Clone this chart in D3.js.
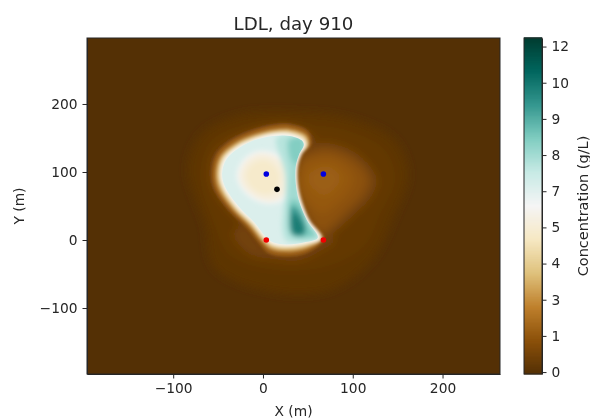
<!DOCTYPE html>
<html lang="en">
<meta charset="utf-8">
<title>LDL, day 910</title>
<style>
    html, body { margin: 0; padding: 0; background: white; }
    svg { display: block; font-family: "DejaVu Sans", sans-serif; filter: blur(0.35px); }
    text { fill: #262626; }
</style>
<body>
<svg id="canvas" width="590" height="420"></svg>
<script src="https://cdnjs.cloudflare.com/ajax/libs/d3/7.8.5/d3.min.js"></script>
<script>
    ///////////////////// Strings /////////////////////
    var title_text = "LDL, day 910";
    var x_label    = "X (m)";
    var y_label    = "Y (m)";
    var c_label    = "Concentration (g/L)";
    ///////////////////////////////////////////////////

    /////////////////////// Data //////////////////////
    var x_extent    = [-196, 264];
    var y_extent    = [-197, 297];
    var x_ticks     = [-100, 0, 100, 200];
    var y_ticks     = [-100, 0, 100, 200];
    var c_extent    = [-0.07, 12.1];
    var c_ticks     = [0, 1.31, 2.62, 3.93, 5.24, 6.55, 7.86, 9.17, 10.48, 11.79];
    var c_labels    = ["0", "1", "3", "4", "5", "7", "8", "9", "10", "12"];
    var brbg        = ["#543005", "#8c510a", "#bf812d", "#dfc27d", "#f6e8c3", "#f5f5f5",
                       "#c7eae5", "#80cdc1", "#35978f", "#01665e", "#003c30"];

    // wells
    var blue_wells  = [[3.7, 97], [67.3, 97]];
    var red_wells   = [[3.7, 0], [67.3, 0]];
    var black_wells = [[15.6, 74.5]];

    // concentration contours, [x, y] in metres, low to high
    var halo_a  = [[41,188],[97,179],[147,147],[162,96],[147,37],[122,-29],[75,-74],[8,-76],[-54,-41],[-65,22],[-84,103],[-70,154],[-26,184]];
    var halo_b  = [[41,169],[91,162],[136,132],[147,88],[130,37],[114,-7],[75,-37],[13,-44],[-37,-22],[-54,22],[-70,96],[-57,147],[-14,169]];
    var lobe_a  = [[56,140],[75,142],[101,130],[121,105],[127,86],[119,61],[101,37],[80,12],[67,2.5],[48,30],[34,78],[38,127]];
    var glow_a  = [[-33,10],[-15,-20],[10,-28],[40,-30],[65,-15],[80,0],[60,15],[0,30]];
    var rim_a   = [[30,172],[50,162],[60,140],[50,110],[44,80],[48,55],[58,28],[72,0],[55,-20],[26,-28],[5,-24],[-10,-5],[-22,18],[-40,44],[-56,74],[-60,98],[-55,128],[-36,150],[-12,164],[12,172]];
    var lobe_b  = [[57,130],[74,132],[95,122],[112,103],[117,86],[110,65],[93,42],[76,20],[66,10],[52,30],[38,78],[42,120]];
    var lobe_c  = [[60,118],[75,120],[92,108],[100,90],[94,70],[80,52],[66,40],[55,50],[40,78],[45,110]];
    var lobe_d  = [[62,106],[76,106],[86,92],[80,76],[68,66],[56,76],[50,92]];

    var body_15 = [[30,170],[50,160],[54,141],[44,125],[40,108],[40,83],[44,59],[53,29],[68,3],[50,-18],[26,-24],[7,-20],[-4,-5],[-18,18],[-38,44],[-54,75],[-57,98],[-52,126],[-35,147],[-12,161],[12,169]];
    var body_30 = [[30,163],[48,154],[51,140],[43,125],[39,108],[39,83],[43,59],[52,29],[66,2.5],[49,-12],[26,-17],[8,-13],[-1,-2],[-15,21],[-34,46],[-49.5,76],[-52.5,98],[-47.5,123],[-31.5,142],[-9.5,155],[12,162]];
    var body_45 = [[30,159],[46.5,150.5],[49,140],[42,125],[38.3,108],[38.3,83],[42,59],[51.3,29],[64.8,2.5],[49,-8],[26,-12.5],[10,-9],[1.5,-0.5],[-13,23],[-31.5,47.5],[-46.5,77.5],[-49.7,98],[-44.8,121.5],[-29.3,139.5],[-8,152],[11.5,158.5]];
    var body_59 = [[30.1,155.9],[45,147.1],[46.9,139.7],[41.3,125],[37.6,107.9],[37.6,83.4],[41.3,58.9],[50.6,29.4],[63.6,2.5],[48.7,-4.9],[26.4,-8.8],[11.5,-5.9],[3.4,1],[-10.7,24.5],[-29.3,49],[-44.2,78.5],[-47.2,98.1],[-42.3,120.1],[-27.5,137.3],[-7,149.5],[11.5,155.9]];
    var body_67 = [[30,153],[43,146.5],[45.5,140],[40,125],[36.5,108],[36.5,83],[40,58],[49,29],[61,3.5],[47.5,-3],[26,-6.5],[12,-3.5],[5,2],[-9,25],[-27.5,50],[-42.5,79],[-45.5,98],[-40.5,119],[-26,136],[-6.5,148],[11.5,153]];
    var core_60 = [[0.4,131.4],[17,125],[28.3,103],[29.4,81],[22.7,59],[6,53],[-12.6,61],[-25.6,78.5],[-29.3,95.6],[-23.8,115],[-12.6,127.5]];
    var core_54 = [[0.4,127],[15,121],[25,102],[26,82],[20,62],[6,57],[-11,65],[-23,80],[-26,96],[-21,113],[-11,124]];
    var core_50 = [[0.4,118],[10,113],[18,99],[18,84],[12,71],[4,67],[-7,71],[-16,82],[-19,96],[-15,108],[-8,115]];
    var band_75 = [[15,150],[30,156],[48,150],[50,137],[44,125],[41,108],[41,85],[42,62],[47,40],[55,18],[64,3],[42,-3],[26,-1],[22,12],[22,37],[24,61],[25,86],[23,105],[17,130]];
    var mid_80  = [[27,148],[41.2,152],[48,142],[46,127.4],[42,112.8],[40,90.7],[41,66.2],[45,46.6],[54,17.2],[62,5],[37.5,2],[29,12.3],[28,46.6],[29,76],[30,105.4],[27,125]];
    var top_84  = [[30,146],[44,150],[45,127.4],[40,110],[33,116],[29.5,128]];
    var low_85  = [[31,58],[41,55],[49,27],[58,8],[41,4],[32,7],[29.5,27]];
    var low_95  = [[32,50],[40,44],[48,17],[46,7],[32,8]];
    var low_103 = [[34,40],[41,31],[46,14],[42,8],[34,11]];

    var outer_values = [0.12, 0.25, 0.7, 0.6, 0.55, 1.15, 1.35, 1.5];
    var outer_shapes = [halo_a, halo_b, lobe_a, glow_a, rim_a, lobe_b, lobe_c, lobe_d];
    var body_values  = [1.5, 3.0, 4.5, 5.9];
    var body_shapes  = [body_15, body_30, body_45, body_59];
    var inner_base   = 6.7;
    var inner_values = [6.0, 5.4, 5.0, 7.5, 7.9, 8.4, 8.5, 9.5, 10.3];
    var inner_shapes = [core_60, core_54, core_50, band_75, mid_80, top_84, low_85, low_95, low_103];
    ///////////////////////////////////////////////////

    ///////// Position and Dimension Variables ////////
    var plot   = {left: 87, right: 500, top: 38, bottom: 374};
    var cbar   = {left: 524, right: 542};
    var font_s = 13.8;
    var tick_n = 4.5;
    var ink    = "#262626";
    ///////////////////////////////////////////////////

    var x = d3.scaleLinear().domain(x_extent).range([plot.left, plot.right]);
    var y = d3.scaleLinear().domain(y_extent).range([plot.bottom, plot.top]);
    var c_y = d3.scaleLinear().domain(c_extent).range([plot.bottom, plot.top]);
    var color = d3.scaleLinear()
        .domain(brbg.map(function (d, i) { return c_extent[0] + i / 10 * (c_extent[1] - c_extent[0]); }))
        .range(brbg)
        .interpolate(d3.interpolateRgb);

    var line = d3.line()
        .x(function (d) { return x(d[0]); })
        .y(function (d) { return y(d[1]); })
        .curve(d3.curveCatmullRomClosed.alpha(0.5));

    var canvas = d3.select("#canvas");
    var defs = canvas.append("defs");
    defs.append("clipPath").attr("id", "plot_clip").append("rect")
        .attr("x", plot.left).attr("y", plot.top)
        .attr("width", plot.right - plot.left).attr("height", plot.bottom - plot.top);
    defs.append("clipPath").attr("id", "inner_clip").append("path")
        .attr("d", line(body_67));
    defs.append("filter").attr("id", "soft_wide")
        .attr("x", "-20%").attr("y", "-20%").attr("width", "140%").attr("height", "140%")
        .append("feGaussianBlur").attr("stdDeviation", 4);
    defs.append("filter").attr("id", "soft")
        .attr("x", "-10%").attr("y", "-10%").attr("width", "120%").attr("height", "120%")
        .append("feGaussianBlur").attr("stdDeviation", 1.5);
    defs.append("filter").attr("id", "soft_inner")
        .attr("x", "-20%").attr("y", "-20%").attr("width", "140%").attr("height", "140%")
        .append("feGaussianBlur").attr("stdDeviation", 2.6);
    defs.append("filter").attr("id", "soft_edge")
        .attr("x", "-10%").attr("y", "-10%").attr("width", "120%").attr("height", "120%")
        .append("feGaussianBlur").attr("stdDeviation", 0.7);

    //////////////////// field ////////////////////////
    var plot_g = canvas.append("g").attr("clip-path", "url(#plot_clip)");
    plot_g.append("rect")
        .attr("x", plot.left).attr("y", plot.top)
        .attr("width", plot.right - plot.left).attr("height", plot.bottom - plot.top)
        .attr("fill", color(c_extent[0]));

    plot_g.append("g").attr("filter", "url(#soft_wide)")
        .selectAll("path")
        .data(outer_shapes)
        .join("path")
        .attr("d", line)
        .attr("fill", function (d, i) { return color(outer_values[i]); });

    plot_g.append("g").attr("filter", "url(#soft)")
        .selectAll("path")
        .data(body_shapes)
        .join("path")
        .attr("d", line)
        .attr("fill", function (d, i) { return color(body_values[i]); });

    // everything inside the white rim is blurred harder, then cut at the rim
    var inner_g = plot_g.append("g").attr("filter", "url(#soft_edge)")
        .append("g").attr("clip-path", "url(#inner_clip)");
    inner_g.append("rect")
        .attr("x", plot.left).attr("y", plot.top)
        .attr("width", plot.right - plot.left).attr("height", plot.bottom - plot.top)
        .attr("fill", color(inner_base));
    inner_g.append("g").attr("filter", "url(#soft_inner)")
        .selectAll("path")
        .data(inner_shapes)
        .join("path")
        .attr("d", line)
        .attr("fill", function (d, i) { return color(inner_values[i]); });

    //////////////////// wells ////////////////////////
    function wells(points, fill) {
        plot_g.append("g")
            .selectAll("circle")
            .data(points)
            .join("circle")
            .attr("cx", function (d) { return x(d[0]); })
            .attr("cy", function (d) { return y(d[1]); })
            .attr("r", 2.8)
            .attr("fill", fill);
    }
    wells(blue_wells, "#0000e0");
    wells(red_wells, "#f00000");
    wells(black_wells, "#000000");

    //////////////////// axes /////////////////////////
    function style_axis(g) {
        g.selectAll("text").attr("font-size", font_s).attr("font-family", '"DejaVu Sans"').attr("fill", ink);
        g.selectAll("line").attr("stroke", ink).attr("stroke-width", 1);
        g.selectAll("path").attr("stroke", ink).attr("stroke-width", 1);
    }

    canvas.append("g")
        .attr("transform", "translate(0," + plot.bottom + ")")
        .call(d3.axisBottom(x).tickValues(x_ticks).tickSize(tick_n).tickPadding(5)
            .tickSizeOuter(0).tickFormat(function (d) { return String(d).replace("-", "\u2212"); }))
        .call(style_axis);

    canvas.append("g")
        .attr("transform", "translate(" + plot.left + ",0)")
        .call(d3.axisLeft(y).tickValues(y_ticks).tickSize(tick_n).tickPadding(5)
            .tickSizeOuter(0).tickFormat(function (d) { return String(d).replace("-", "\u2212"); }))
        .call(style_axis);

    canvas.append("rect")
        .attr("x", plot.left).attr("y", plot.top)
        .attr("width", plot.right - plot.left).attr("height", plot.bottom - plot.top)
        .attr("fill", "none").attr("stroke", ink).attr("stroke-width", 1);

    ////////////////// colour bar /////////////////////
    var c_steps = d3.range(c_extent[0], c_extent[1], (c_extent[1] - c_extent[0]) / 256);
    canvas.append("g").selectAll("rect")
        .data(c_steps)
        .join("rect")
        .attr("x", cbar.left)
        .attr("width", cbar.right - cbar.left)
        .attr("y", function (d) { return c_y(d) - 2; })
        .attr("height", 2.5)
        .attr("fill", function (d) { return color(d); });

    canvas.append("g")
        .attr("transform", "translate(" + cbar.right + ",0)")
        .call(d3.axisRight(c_y).tickValues(c_ticks).tickSize(tick_n).tickPadding(5).tickSizeOuter(0)
            .tickFormat(function (d, i) { return c_labels[i]; }))
        .call(style_axis);

    canvas.append("rect")
        .attr("x", cbar.left).attr("y", plot.top)
        .attr("width", cbar.right - cbar.left).attr("height", plot.bottom - plot.top)
        .attr("fill", "none").attr("stroke", ink).attr("stroke-width", 1);

    //////////////////// labels ///////////////////////
    canvas.append("text")
        .attr("x", (plot.left + plot.right) / 2).attr("y", 30)
        .attr("text-anchor", "middle").attr("font-size", 18.2)
        .text(title_text);
    canvas.append("text")
        .attr("x", (plot.left + plot.right) / 2).attr("y", 416)
        .attr("text-anchor", "middle").attr("font-size", font_s)
        .text(x_label);
    canvas.append("text")
        .attr("transform", "translate(24," + (plot.top + plot.bottom) / 2 + ") rotate(-90)")
        .attr("text-anchor", "middle").attr("font-size", font_s)
        .text(y_label);
    canvas.append("text")
        .attr("transform", "translate(587.5," + (plot.top + plot.bottom) / 2 + ") rotate(-90)")
        .attr("text-anchor", "middle").attr("font-size", 14.5)
        .text(c_label);
</script>
</body>
</html>
